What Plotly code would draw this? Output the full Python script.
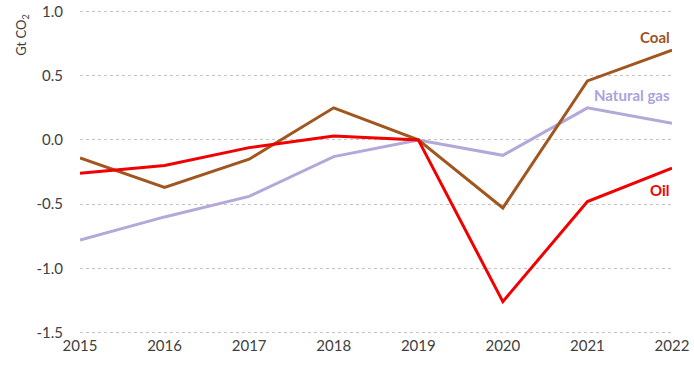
import plotly.graph_objects as go

years = [2015, 2016, 2017, 2018, 2019, 2020, 2021, 2022]
coal = [-0.14, -0.37, -0.15, 0.25, 0.0, -0.53, 0.46, 0.70]
natural_gas = [-0.78, -0.60, -0.44, -0.13, 0.0, -0.12, 0.25, 0.13]
oil = [-0.26, -0.20, -0.06, 0.03, 0.0, -1.26, -0.48, -0.22]

y_ticks = [1.0, 0.5, 0.0, -0.5, -1.0, -1.5]
y_tick_labels = ["1.0", "0.5", "0.0", "-0.5", "-1.0", "-1.5"]

col_coal = "#A0561E"
col_gas = "#B4A8D9"
col_oil = "#F00000"

fig = go.Figure()
fig.add_trace(go.Scatter(x=years, y=natural_gas, mode="lines", line=dict(color=col_gas, width=3), name="Natural gas"))
fig.add_trace(go.Scatter(x=years, y=coal, mode="lines", line=dict(color=col_coal, width=3), name="Coal"))
fig.add_trace(go.Scatter(x=years, y=oil, mode="lines", line=dict(color=col_oil, width=3), name="Oil"))

font = "Lato, 'Open Sans', sans-serif"
fig.update_layout(
    width=694, height=366,
    margin=dict(l=80, r=22, t=9, b=31),
    paper_bgcolor="white", plot_bgcolor="white",
    showlegend=False,
    font=dict(family=font, size=15, color="#404040"),
    xaxis=dict(range=[2015, 2022], tickvals=years, ticktext=[str(y) for y in years],
               showgrid=False, zeroline=False, showline=False, ticks="", automargin=False,
               tickfont=dict(size=15, color="#404040"), ticklabelstandoff=0),
    yaxis=dict(range=[-1.52, 1.02], tickvals=y_ticks, ticktext=y_tick_labels,
               showgrid=True, gridcolor="#C4C4C4", griddash="dot", gridwidth=1,
               zeroline=False, showline=False, ticks="", automargin=False,
               tickfont=dict(size=15, color="#404040"), ticklabelstandoff=16),
)

fig.add_annotation(xref="paper", yref="paper", x=-0.098, y=0.99, xanchor="center", yanchor="top",
                   text="Gt CO<sub>2</sub>", textangle=-90, showarrow=False,
                   font=dict(size=13, color="#404040", family=font))

fig.add_annotation(x=2022, y=0.80, xref="x", yref="y", text="<b>Coal</b>", showarrow=False,
                   xanchor="right", font=dict(size=15, color="#9A5524", family=font))
fig.add_annotation(x=2022, y=0.35, xref="x", yref="y", text="<b>Natural gas</b>", showarrow=False,
                   xanchor="right", font=dict(size=15, color="#ABA2DC", family=font))
fig.add_annotation(x=2022, y=-0.39, xref="x", yref="y", text="<b>Oil</b>", showarrow=False,
                   xanchor="right", font=dict(size=15, color=col_oil, family=font))

fig.write_html("out.html", config={"displayModeBar": False},
               post_script="document.body.style.margin='0';")
